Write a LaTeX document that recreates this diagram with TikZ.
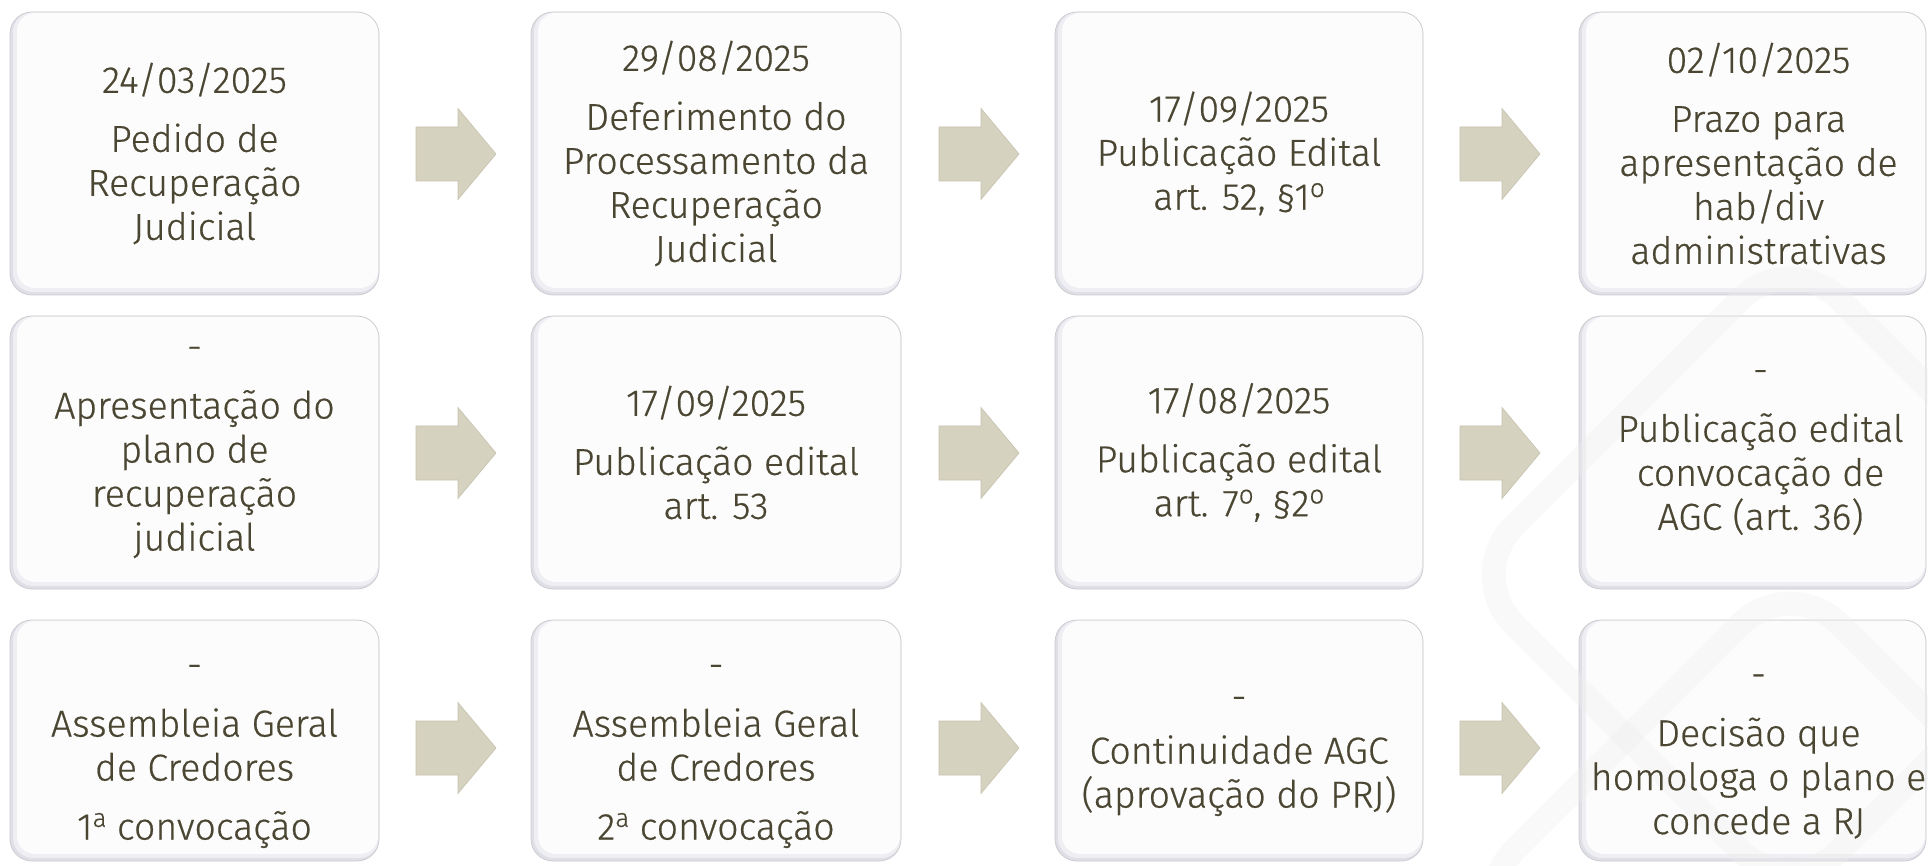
\documentclass[tikz,border=0pt]{standalone}
\usepackage{fontspec}
\IfFontExistsTF{Fira Sans Light}
  {\setmainfont{Fira Sans Light}[FakeBold=0.5]}
  {\setmainfont{Fira Sans}}
\usetikzlibrary{calc}
\definecolor{txt}{RGB}{74,70,50}
\definecolor{arrowc}{RGB}{214,210,192}
\definecolor{arrowe}{RGB}{198,194,174}
\definecolor{boxshade}{RGB}{222,223,231}
\definecolor{boxmid}{RGB}{238,238,243}
\definecolor{boxfill}{RGB}{252,252,253}
\definecolor{boxline}{RGB}{205,205,210}
\definecolor{wm}{RGB}{238,238,238}
\newcommand\ordi[1]{\raisebox{0.34em}{\fontsize{26}{26}\selectfont #1}}
\begin{document}
\begin{tikzpicture}[x=1pt,y=-1pt,
  stepbox/.style={rectangle, rounded corners=22pt, draw=boxline, line width=0.8pt,
    fill=boxshade, inner sep=0pt, outer sep=0pt,
    path picture={
      \fill[boxmid, rounded corners=20pt]
        ([xshift=3pt,yshift=3pt]path picture bounding box.south west) rectangle
        ([xshift=0pt,yshift=0pt]path picture bounding box.north east);
      \fill[boxfill, rounded corners=18pt]
        ([xshift=7pt,yshift=7pt]path picture bounding box.south west) rectangle
        ([xshift=-1pt,yshift=-1pt]path picture bounding box.north east);
    }},
  lbl/.style={align=center, text=txt, font=\fontsize{37.5}{44}\selectfont, inner sep=0pt},
  blockarr/.style={fill=arrowc, draw=arrowe, line width=0.6pt, line join=miter}
]
\useasboundingbox (0,0) rectangle (1928,866);
\fill[white] (0,0) rectangle (1928,866);

% boxes: columns x 10-379, 531-901, 1055-1423, 1579-1926 ; rows y 12-295, 316-589, 620-861
\foreach \c/\xa/\xb in {1/10/379, 2/531/901, 3/1055/1423, 4/1579/1926}{
  \foreach \r/\ya/\yb in {1/12/295, 2/316/589, 3/620/861}{
    \node[stepbox, minimum width={\xb-\xa}, minimum height={\yb-\ya}]
      (b\r\c) at ({(\xa+\xb)/2},{(\ya+\yb)/2}) {};
  }
}

% faint watermark
\begin{scope}[opacity=0.35]
\draw[wm, line width=24pt, rounded corners=70pt, rotate around={45:(1790,575)}]
  (1790-230,575-230) rectangle (1790+230,575+230);
\draw[wm, line width=24pt, rounded corners=70pt, rotate around={45:(1790,900)}]
  (1790-230,900-230) rectangle (1790+230,900+230);
\end{scope}

% block arrows between columns
\foreach \r/\y in {1/154, 2/453, 3/748}{
  \foreach \a/\b/\x in {1/2/456, 2/3/979, 3/4/1500}{
    \coordinate (arr\r\a) at (\x,\y);
    \filldraw[blockarr, shift={(arr\r\a)}]
      (-40,-27) -- (2,-27) -- (2,-45.5) -- (40,0) -- (2,45.5) -- (2,27) -- (-40,27) -- cycle;
  }
}

% texts
\node[lbl] (t11) at (b11.center) {24/03/2025\\[15pt]Pedido de\\Recuperação\\Judicial};
\node[lbl] (t12) at (b12.center) {29/08/2025\\[15pt]Deferimento do\\Processamento da\\Recuperação\\Judicial};
\node[lbl] (t13) at (b13.center) {17/09/2025\\Publicação Edital\\art. 52, §1\ordi{o}};
\node[lbl] (t14) at ([xshift=6pt]b14.center) {02/10/2025\\[15pt]Prazo para\\apresentação de\\hab/div\\administrativas};

\node[lbl] (t21) at (b21.center) {-\\[15pt]Apresentação do\\plano de\\recuperação\\judicial};
\node[lbl] (t22) at (b22.center) {17/09/2025\\[15pt]Publicação edital\\art. 53};
\node[lbl] (t23) at (b23.center) {17/08/2025\\[15pt]Publicação edital\\art. 7\ordi{o}, §2\ordi{o}};
\node[lbl] (t24) at ([xshift=8pt]b24.center) {-\\[15pt]Publicação edital\\convocação de\\AGC (art. 36)};

\node[lbl] (t31) at ([yshift=-16pt]b31.center) {-\\[15pt]Assembleia Geral\\de Credores\\[15pt]1\ordi{a} convocação};
\node[lbl] (t32) at ([yshift=-16pt]b32.center) {-\\[15pt]Assembleia Geral\\de Credores\\[15pt]2\ordi{a} convocação};
\node[lbl] (t33) at ([yshift=-16pt]b33.center) {-\\[10pt]Continuidade AGC\\(aprovação do PRJ)};
\node[lbl] (t34) at ([xshift=6pt,yshift=-16pt]b34.center) {-\\[15pt]Decisão que\\homologa o plano e\\concede a RJ};
\end{tikzpicture}
\end{document}
